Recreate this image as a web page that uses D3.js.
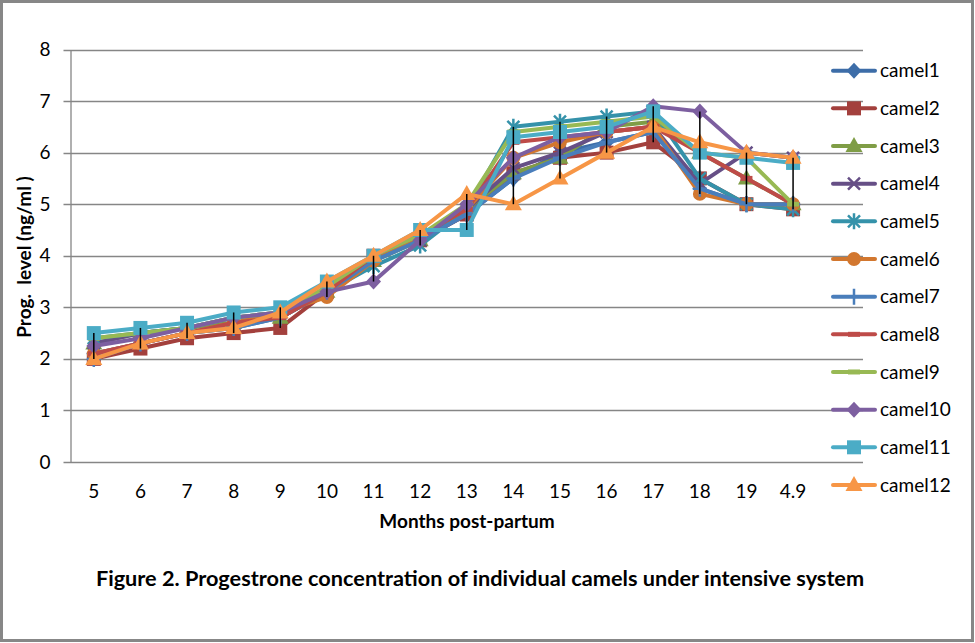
<!DOCTYPE html>
<html lang="en">
  <head>
    <meta charset="UTF-8" />
    <title>Progesterone of camels</title>
    <style>
      body { margin: 0; background: #fff; }
      text { font-family: Lato, "Open Sans", sans-serif; fill: #000; }
    </style>
  </head>
  <body>
    <script src="https://d3js.org/d3.v7.min.js"></script>
    <script>
      // months post-partum (last label is as printed on the original)
      const categories = ["5", "6", "7", "8", "9", "10", "11", "12", "13", "14", "15", "16", "17", "18", "19", "4.9"];
      const yTicks = [0, 1, 2, 3, 4, 5, 6, 7, 8];
      const seriesNames = ["camel1", "camel2", "camel3", "camel4", "camel5", "camel6",
        "camel7", "camel8", "camel9", "camel10", "camel11", "camel12"];

      const camel1 = [2.1, 2.3, 2.5, 2.6, 2.8, 3.3, 3.9, 4.3, 4.8, 5.5, 6.0, 6.2, 6.4, 5.3, 5.0, 5.0];
      const camel2 = [2.0, 2.2, 2.4, 2.5, 2.6, 3.3, 4.0, 4.3, 4.8, 5.6, 5.9, 6.0, 6.2, 5.5, 5.0, 4.9];
      const camel3 = [2.3, 2.5, 2.6, 2.7, 2.8, 3.3, 3.9, 4.3, 4.9, 5.6, 5.9, 6.5, 6.6, 6.0, 5.5, 5.0];
      const camel4 = [2.3, 2.5, 2.6, 2.8, 2.9, 3.3, 4.0, 4.3, 4.9, 5.7, 6.0, 6.4, 6.5, 5.4, 6.0, 5.9];
      const camel5 = [2.4, 2.5, 2.6, 2.8, 2.9, 3.3, 3.8, 4.2, 4.9, 6.5, 6.6, 6.7, 6.8, 5.5, 5.0, 4.9];
      const camel6 = [2.1, 2.3, 2.5, 2.7, 2.9, 3.2, 3.9, 4.4, 4.9, 5.9, 6.2, 6.4, 6.5, 5.2, 5.0, 5.0];
      const camel7 = [2.0, 2.3, 2.5, 2.6, 2.8, 3.3, 3.9, 4.3, 4.8, 5.5, 5.9, 6.2, 6.4, 5.3, 5.0, 5.0];
      const camel8 = [2.1, 2.3, 2.5, 2.7, 2.8, 3.3, 4.0, 4.4, 4.9, 6.2, 6.3, 6.4, 6.5, 6.0, 5.5, 5.0];
      const camel9 = [2.4, 2.5, 2.6, 2.8, 2.9, 3.4, 4.0, 4.4, 5.0, 6.4, 6.5, 6.6, 6.7, 6.0, 5.9, 5.0];
      const camel10 = [2.25, 2.4, 2.6, 2.8, 2.9, 3.3, 3.5, 4.3, 5.0, 5.9, 6.3, 6.4, 6.9, 6.8, 6.0, 5.9];
      const camel11 = [2.5, 2.6, 2.7, 2.9, 3.0, 3.5, 4.0, 4.5, 4.5, 6.3, 6.4, 6.5, 6.8, 6.0, 5.9, 5.8];
      const camel12 = [2.0, 2.3, 2.5, 2.6, 2.9, 3.5, 4.0, 4.5, 5.2, 5.0, 5.5, 6.0, 6.5, 6.2, 6.0, 5.9];

      const seriesValues = [camel1, camel2, camel3, camel4, camel5, camel6,
        camel7, camel8, camel9, camel10, camel11, camel12];

      const colors = ["#3D6DA8", "#A3403D", "#7F9D46", "#664F86", "#3592AA", "#D2772F",
        "#4A7EBB", "#BE4B48", "#98B954", "#7D5FA0", "#4BACC6", "#F79646"];
      const markers = ["diamond", "square", "triangle", "x", "star", "circle",
        "plus", "dash", "dash", "diamond", "square", "triangle"];

      const W = 975, H = 643;
      const svg = d3.select("body").append("svg").attr("width", W).attr("height", H);

      // outer chart border
      svg.append("rect")
        .attr("x", 1.5).attr("y", 1.5)
        .attr("width", W - 4).attr("height", H - 4)
        .attr("fill", "#fff").attr("stroke", "#878787").attr("stroke-width", 3);

      const plot = { left: 70.5, right: 863, top: 49.5, bottom: 462 };

      // one empty slot after the last category, as in the original
      const x = d3.scaleBand()
        .domain([...categories, ""])
        .range([plot.left, plot.right]);
      const cx = (c) => x(c) + x.bandwidth() / 2;

      const y = d3.scaleLinear().domain([0, 8]).range([plot.bottom, plot.top]);

      // gridlines
      svg.append("g")
        .selectAll("line")
        .data(yTicks)
        .join("line")
        .attr("x1", plot.left - 7).attr("x2", plot.right)
        .attr("y1", (d) => Math.round(y(d)) + 0.5).attr("y2", (d) => Math.round(y(d)) + 0.5)
        .attr("stroke", "#868686").attr("stroke-width", 1.3);

      // y axis
      const yAxis = d3.axisLeft(y).tickValues(yTicks).tickSize(7).tickPadding(13).tickSizeOuter(0);
      svg.append("g")
        .attr("transform", `translate(${plot.left}, 0)`)
        .call(yAxis)
        .call((g) => g.selectAll(".domain").attr("stroke", "#868686").attr("stroke-width", 1.3))
        .call((g) => g.selectAll(".tick line").remove())
        .call((g) => g.selectAll("text").attr("font-size", 19).attr("font-family", "Lato"));

      // x axis labels
      const xAxis = d3.axisBottom(x).tickSize(0).tickPadding(23);
      svg.append("g")
        .attr("transform", `translate(0, ${plot.bottom})`)
        .call(xAxis)
        .call((g) => g.selectAll(".domain").remove())
        .call((g) => g.selectAll("text").attr("font-size", 19).attr("font-family", "Lato"));

      const symbolPath = (type) => {
        switch (type) {
          case "diamond": return "M0,-8L7.5,0L0,8L-7.5,0Z";
          case "square": return "M-7,-7H7V7H-7Z";
          case "triangle": return "M0,-9L8.5,6H-8.5Z";
          case "circle": return d3.symbol(d3.symbolCircle, 150)();
          default: return null;
        }
      };

      const line = d3.line()
        .x((d) => cx(d.cat))
        .y((d) => y(d.value));

      const series = seriesNames.map((name, i) => ({
        name,
        color: colors[i],
        marker: markers[i],
        points: seriesValues[i].map((v, j) => ({ cat: categories[j], value: v }))
      }));

      function drawMarker(g, type, color) {
        const p = symbolPath(type);
        if (p) {
          g.append("path").attr("d", p).attr("fill", color);
        } else if (type === "x") {
          g.append("path").attr("d", "M-6,-6L6,6M-6,6L6,-6")
            .attr("stroke", color).attr("stroke-width", 2.5).attr("fill", "none");
        } else if (type === "star") {
          g.append("path").attr("d", "M-6,-6L6,6M-6,6L6,-6M0,-8V8")
            .attr("stroke", color).attr("stroke-width", 2.5).attr("fill", "none");
        } else if (type === "plus") {
          g.append("path").attr("d", "M0,-8V8M-7,0H7")
            .attr("stroke", color).attr("stroke-width", 2.5).attr("fill", "none");
        } else if (type === "dash") {
          g.append("path").attr("d", "M-6,0H6")
            .attr("stroke", color).attr("stroke-width", 5).attr("fill", "none");
        }
      }

      const seriesG = svg.append("g")
        .selectAll("g")
        .data(series)
        .join("g");

      seriesG.append("path")
        .attr("d", (d) => line(d.points))
        .attr("fill", "none")
        .attr("stroke", (d) => d.color)
        .attr("stroke-width", 4)
        .attr("stroke-linejoin", "round");

      seriesG.each(function (s) {
        const grp = d3.select(this);
        s.points.forEach((p) => {
          const m = grp.append("g").attr("transform", `translate(${cx(p.cat)},${y(p.value)})`);
          drawMarker(m, s.marker, s.color);
        });
      });

      // high-low lines
      svg.append("g")
        .selectAll("line")
        .data(categories)
        .join("line")
        .attr("x1", (c) => cx(c)).attr("x2", (c) => cx(c))
        .attr("y1", (c, j) => y(d3.min(seriesValues, (s) => s[j])))
        .attr("y2", (c, j) => y(d3.max(seriesValues, (s) => s[j])))
        .attr("stroke", "#000").attr("stroke-width", 1.5);

      // legend
      const legendTop = 70.7, legendStep = 37.66;
      const legend = svg.append("g")
        .selectAll("g")
        .data(series)
        .join("g")
        .attr("transform", (d, i) => `translate(0, ${legendTop + i * legendStep})`);

      legend.append("line")
        .attr("x1", 833).attr("x2", 875)
        .attr("stroke", (d) => d.color).attr("stroke-width", 4)
        .attr("stroke-linecap", "round");
      legend.each(function (s) {
        const m = d3.select(this).append("g").attr("transform", "translate(854,0)");
        drawMarker(m, s.marker, s.color);
      });
      legend.append("text")
        .attr("x", 880).attr("dy", "0.35em")
        .attr("font-size", 19)
        .text((d) => d.name);

      // axis titles and caption
      svg.append("text")
        .attr("x", 467).attr("y", 528)
        .attr("text-anchor", "middle")
        .attr("font-size", 19).attr("font-weight", "bold")
        .text("Months post-partum");

      svg.append("text")
        .attr("transform", "translate(31, 257) rotate(-90)")
        .attr("text-anchor", "middle")
        .attr("font-size", 19).attr("font-weight", "bold")
        .style("white-space", "pre")
        .text("Prog.  level (ng/ml )");

      svg.append("text")
        .attr("x", 480).attr("y", 586)
        .attr("text-anchor", "middle")
        .attr("font-size", 21.7).attr("font-weight", "bold")
        .text("Figure 2. Progestrone concentration of individual camels under intensive system");
    </script>
  </body>
</html>
